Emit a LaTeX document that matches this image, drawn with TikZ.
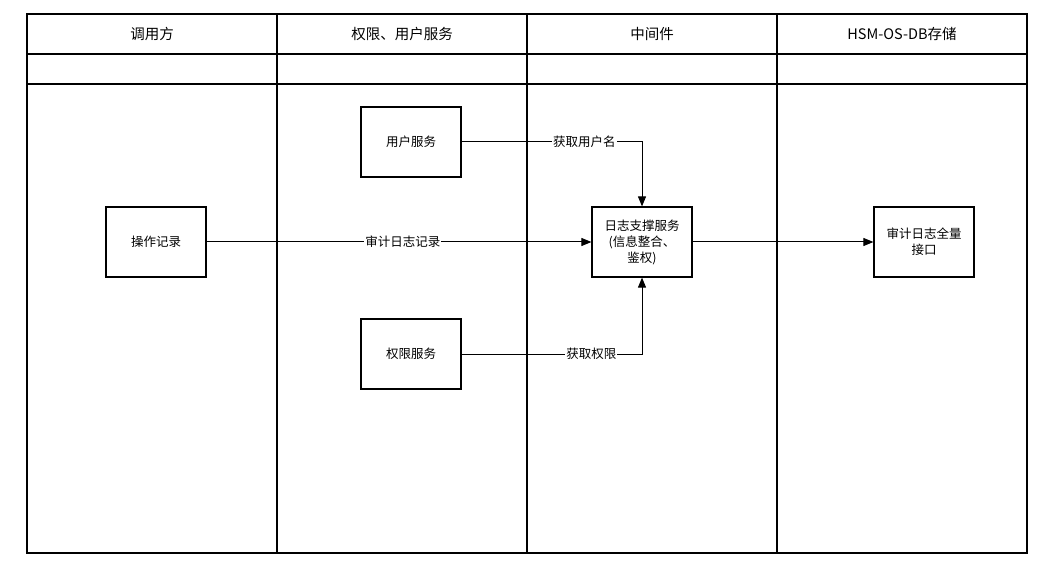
\documentclass[tikz,border=0pt]{standalone}
\usepackage{fontspec}
\setmainfont{Noto Sans CJK SC}
\usetikzlibrary{arrows.meta}
\begin{document}
\begin{tikzpicture}[x=1pt,y=-1pt,
  box/.style={draw,line width=1.2pt,minimum width=100pt,minimum height=70pt,align=center,font=\fontsize{12.5}{16}\selectfont,inner sep=2pt},
  hdr/.style={font=\fontsize{14.5}{17}\selectfont},
  conn/.style={line width=1pt,-{Triangle[length=10pt,width=8pt]}},
  lbl/.style={fill=white,font=\fontsize{12.5}{15}\selectfont,inner sep=1pt}]
\useasboundingbox (0,0) rectangle (1055,572);
\draw[line width=1.2pt] (27,14) rectangle (1027,553);
\draw[line width=1.2pt] (27,54) -- (1027,54) (27,84) -- (1027,84);
\foreach \x in {277,527,777} \draw[line width=1.2pt] (\x,14) -- (\x,553);
\node[hdr] (h1) at (152,34) {调用方};
\node[hdr] (h2) at (402,34) {权限、用户服务};
\node[hdr] (h3) at (652,34) {中间件};
\node[hdr] (h4) at (902,34) {HSM-OS-DB存储};
\node[box] (user) at (411,142) {用户服务};
\node[box] (op) at (156,242) {操作记录};
\node[box] (perm) at (411,354) {权限服务};
\node[box] (log) at (642,242) {日志支撑服务\\(信息整合、\\鉴权)};
\node[box] (aud) at (924,242) {审计日志全量\\接口};
\draw[conn] (user.east) -| node[lbl,pos=0.34]{获取用户名} (log.north);
\draw[conn] (perm.east) -| node[lbl,pos=0.36]{获取权限} (log.south);
\draw[conn] (op.east) -- node[lbl,pos=0.51]{审计日志记录} (log.west);
\draw[conn] (log.east) -- (aud.west);
\end{tikzpicture}
\end{document}
